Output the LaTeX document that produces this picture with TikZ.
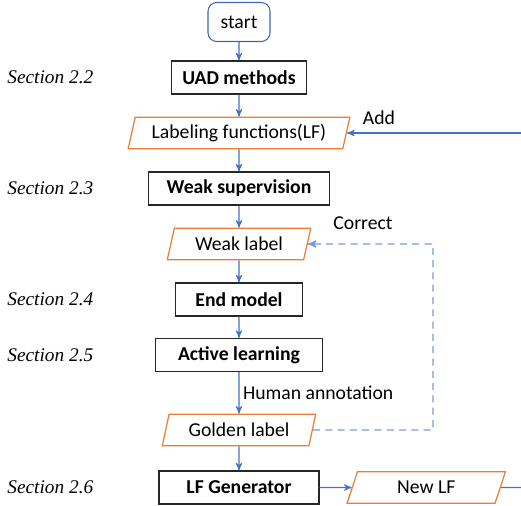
\documentclass[tikz,border=0pt]{standalone}
\usepackage{fontspec}
\setmainfont{Carlito}
\newfontfamily\secfont{Liberation Serif}
\usetikzlibrary{arrows,positioning,shapes.geometric}
\definecolor{flowblue}{RGB}{68,114,196}
\definecolor{fbblue}{RGB}{120,155,215}
\definecolor{paraorange}{RGB}{237,125,49}
\definecolor{startblue}{RGB}{60,100,175}
\tikzset{
  base/.style      = {align=center, font=\fontsize{11.2}{13}\selectfont, inner sep=2pt},
  startnode/.style = {base, shape=rectangle, rounded corners=5pt,
                      draw=startblue, line width=0.6pt,
                      minimum width=1.24cm, minimum height=0.78cm},
  proc/.style      = {base, shape=rectangle, draw=black!85, line width=0.7pt,
                      font=\fontsize{11.2}{13}\selectfont\bfseries, minimum height=0.66cm},
  io/.style        = {base, trapezium, trapezium left angle=76,
                      trapezium right angle=104, trapezium stretches=true,
                      draw=paraorange, line width=0.7pt, minimum height=0.63cm},
  sec/.style       = {anchor=west, inner sep=0pt,
                      font=\secfont\itshape\fontsize{11}{13}\selectfont},
  lbl/.style       = {base},
  flow/.style      = {draw=flowblue, line width=0.6pt, ->},
  feedback/.style  = {draw=fbblue, line width=0.8pt, dash pattern=on 4pt off 3pt, ->}
}

\begin{document}
\begin{tikzpicture}
  [>=stealth', level distance=1.11cm,
   edge from parent/.style={flow}]
  \useasboundingbox (0,0) rectangle (10.42,-10.1);
  \coordinate (rim) at (10.42,0);
  \coordinate (fbx) at (8.66,0);

  % main chain
  \node [startnode] (start) at (4.78,-0.44) {start}
    child { node [proc, minimum width=2.7cm] (uad) {UAD methods}
      child { node [io, minimum width=4.44cm] (lf) {Labeling functions(LF)}
        child { node [proc, minimum width=3.62cm] (ws) {Weak supervision}
          child { node [io, minimum width=2.88cm] (wl) {Weak label}
            child { node [proc, minimum width=2.54cm] (em) {End model}
              child { node [proc, minimum width=3.34cm] (al) {Active learning}
                child [level distance=1.5cm] { node [io, minimum width=3.08cm] (gl) {Golden label}
                  child [level distance=1.15cm] { node [proc, minimum width=3.2cm] (lfg) {LF Generator} }
                  edge from parent node [right, lbl] {Human annotation} }
  } } } } } };

  % sections
  \node [sec] (s22) at (uad -| 0.14,0) {Section 2.2};
  \node [sec] (s23) at (ws -| 0.14,0) {Section 2.3};
  \node [sec] (s24) at (em -| 0.14,0) {Section 2.4};
  \node [sec] (s25) at (al -| 0.14,0) {Section 2.5};
  \node [sec] (s26) at (lfg -| 0.14,0) {Section 2.6};

  % new LF
  \node [io, minimum width=3.18cm, right=0.64cm of lfg] (newlf) {New LF};
  \draw [flow] (lfg) -- (newlf);
  \coordinate (out) at (newlf -| rim);
  \draw [draw=flowblue, line width=0.6pt] (newlf) -- (out);

  % add back
  \coordinate (addin) at (lf -| rim);
  \draw [flow] (addin) -- (lf);
  \node [lbl] (add) at (7.58,-2.36) {Add};

  % correction loop
  \coordinate (fbdown) at (gl -| fbx);
  \coordinate (fbup) at (wl -| fbx);
  \draw [feedback] (gl) -- (fbdown) -- (fbup) -- (wl);
  \node [lbl] (correct) at (7.26,-4.46) {Correct};
\end{tikzpicture}
\end{document}
